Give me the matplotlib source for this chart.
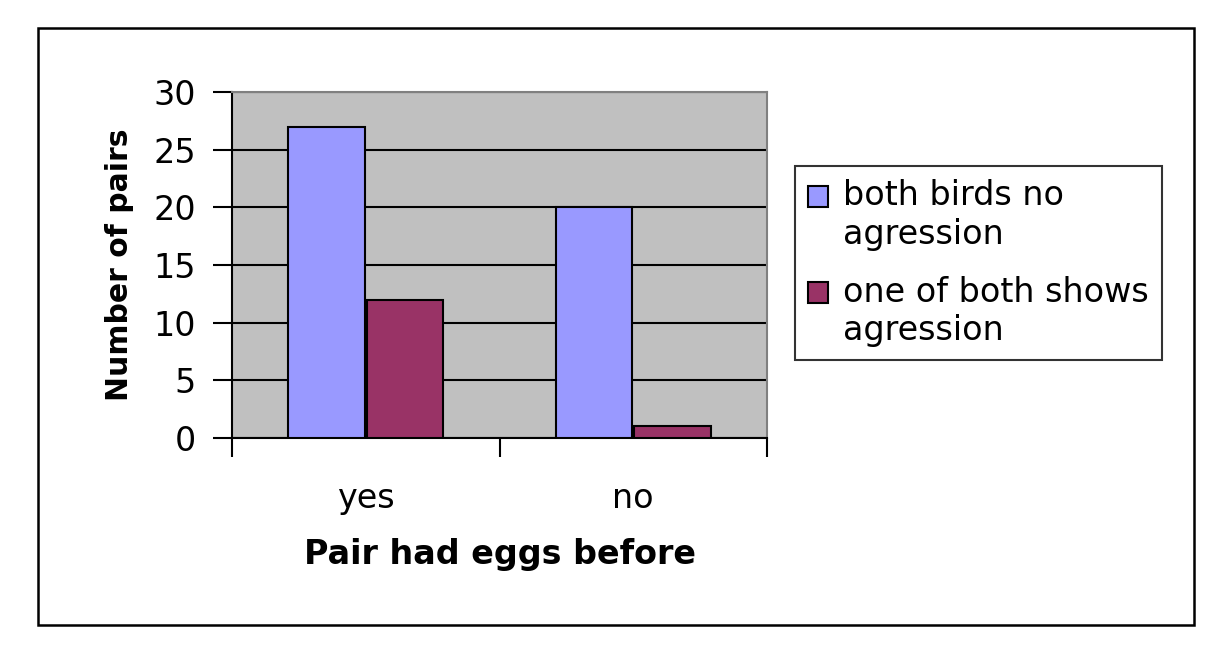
import matplotlib
matplotlib.use("Agg")
import matplotlib.pyplot as plt
from matplotlib.patches import Rectangle, Patch
from matplotlib.legend_handler import HandlerBase
import numpy as np

categories = ["yes", "no"]
series_names = ["both birds no\nagression", "one of both shows\nagression"]
no_aggression = [27, 20]
aggression = [12, 1]
colors = ["#9999FF", "#993366"]

plt.rcParams['font.family'] = ['DejaVu Sans']
FS = 24

W, H = 1231, 667
fig = plt.figure(figsize=(W / 100, H / 100), dpi=100)
fig.patch.set_facecolor("white")

# outer border
fig.patches.append(Rectangle((38 / W, 1 - 625 / H), (1194 - 38) / W, (625 - 28) / H,
                             transform=fig.transFigure, fill=False, edgecolor="black",
                             linewidth=1.8, zorder=0))

ax = fig.add_axes([232 / W, 1 - 438 / H, (767 - 232) / W, (438 - 92) / H])
ax.set_facecolor("#C0C0C0")

x = np.arange(len(categories)) + 0.5
bw = 0.285
ax.bar(x - bw / 2 - 0.004, no_aggression, width=bw, color=colors[0], edgecolor="black",
       linewidth=1.5, zorder=3, label=series_names[0])
ax.bar(x + bw / 2 + 0.004, aggression, width=bw, color=colors[1], edgecolor="black",
       linewidth=1.5, zorder=3, label=series_names[1])

ax.set_xlim(0, 2)
ax.set_ylim(0, 30)
ax.set_yticks(np.arange(0, 31, 5))
ax.set_xticks([0, 1, 2])
ax.set_xticklabels([])
ax.set_xticks(x, minor=True)
ax.set_xticklabels(categories, minor=True)
ax.tick_params(axis="x", which="minor", length=0, pad=32, labelsize=FS)
ax.tick_params(axis="x", which="major", length=14, width=1.5, direction="out")
ax.tick_params(axis="y", length=14, width=1.5, direction="out", pad=12, labelsize=FS)

ax.yaxis.grid(True, color="black", linewidth=1.5, zorder=1)
ax.set_axisbelow(True)

for s in ["top", "right"]:
    ax.spines[s].set_color("#808080")
    ax.spines[s].set_linewidth(1.5)
ax.spines["left"].set_color("black")
ax.spines["left"].set_linewidth(1.5)
ax.spines["bottom"].set_color("black")
ax.spines["bottom"].set_linewidth(1.5)

ax.set_ylabel("Number of pairs", fontsize=21.5, fontweight="bold", labelpad=14)
ax.set_xlabel("Pair had eggs before", fontsize=FS, fontweight="bold", labelpad=16)


class TopAlignedHandler(HandlerBase):
    def create_artists(self, legend, orig_handle, xdescent, ydescent, width, height,
                       fontsize, trans):
        shift = 0.6 * fontsize
        r = Rectangle((-xdescent, -ydescent + shift), width, height,
                      facecolor=orig_handle.get_facecolor(), edgecolor="black",
                      linewidth=1.5, transform=trans)
        return [r]


handles = [Patch(facecolor=colors[0], edgecolor="black", linewidth=1.5),
           Patch(facecolor=colors[1], edgecolor="black", linewidth=1.5)]
leg = fig.legend(handles, series_names, loc="upper left",
                 bbox_to_anchor=(795 / W, 1 - 166 / H), fontsize=FS,
                 frameon=True, fancybox=False, edgecolor="black",
                 handlelength=0.6, handleheight=0.6, handletextpad=0.45,
                 borderpad=0.4, labelspacing=0.75, borderaxespad=0,
                 handler_map={Patch: TopAlignedHandler()})
leg.get_frame().set_linewidth(1.5)

fig.savefig("out.png", dpi=100)
